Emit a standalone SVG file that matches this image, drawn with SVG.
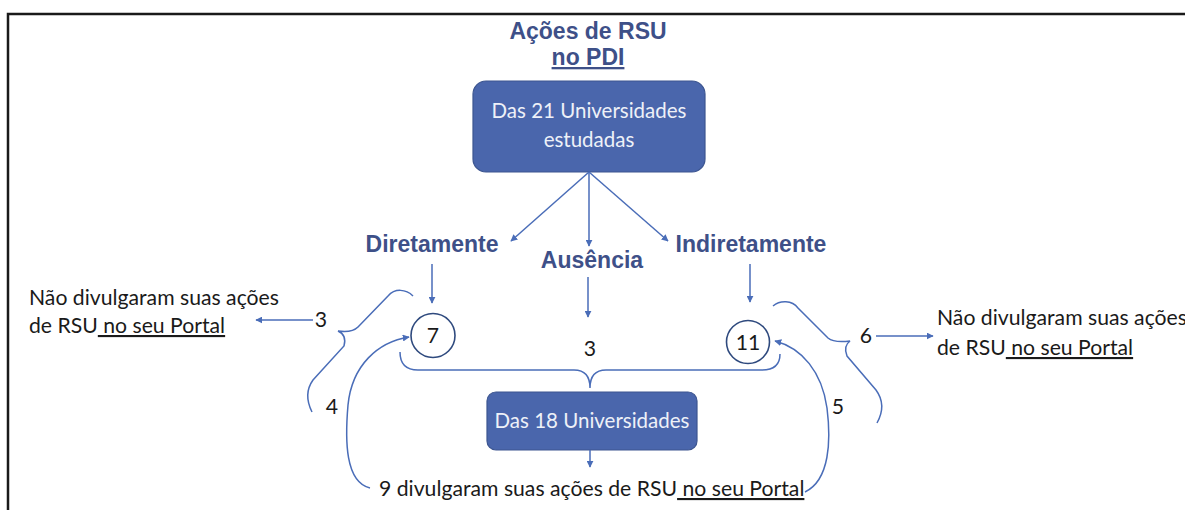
<svg xmlns="http://www.w3.org/2000/svg" width="1185" height="510" viewBox="0 0 1185 510">
<style>
.frame{fill:none;stroke:#1a1a1a;stroke-width:2.5}
.box{fill:#4A66AC;stroke:#3C5590;stroke-width:1.2}
.boxt{font-family:Lato,"Noto Sans",sans-serif;font-size:20.5px;fill:#EEF1F8;text-anchor:middle}
.title{font-family:"Liberation Sans",Arial,sans-serif;font-weight:bold;font-size:23px;fill:#3E5088;text-anchor:middle}
.body{font-family:Lato,"Noto Sans",sans-serif;font-size:21.2px;fill:#1a1a1a}
.mid{text-anchor:middle}
.u{text-decoration:underline}
.con{fill:none;stroke:#4A6DB8;stroke-width:1.5}
.arr{marker-end:url(#ah)}
.circ{fill:#fff;stroke:#2F4A7E;stroke-width:1.6}
</style>
<defs>
<marker id="ah" viewBox="0 0 10 10" refX="9" refY="5" markerWidth="7" markerHeight="7" markerUnits="userSpaceOnUse" orient="auto">
<path d="M0,0 L10,5 L0,10 z" fill="#4A6DB8"/>
</marker>
</defs>
<rect class="frame" x="8" y="14" width="1190" height="510"/>
<g id="title">
<text class="title" x="588" y="39">Ações de RSU</text>
<text class="title u" x="588" y="65">no PDI</text>
</g>
<g id="box21">
<rect class="box" x="473" y="81" width="232" height="91" rx="13"/>
<text class="boxt" x="589" y="118">Das 21 Universidades</text>
<text class="boxt" x="589" y="147">estudadas</text>
</g>
<g id="diretamente"><text class="title" x="432" y="252">Diretamente</text></g>
<g id="ausencia"><text class="title" x="592" y="268">Ausência</text></g>
<g id="indiretamente"><text class="title" x="751" y="252">Indiretamente</text></g>
<g id="c7">
<circle class="circ" cx="433" cy="335.5" r="22"/>
<text class="body mid" x="433" y="343">7</text>
</g>
<g id="c11">
<circle class="circ" cx="748" cy="342" r="21.5"/>
<text class="body mid" x="748" y="350">11</text>
</g>
<g id="aus3"><text class="body mid" x="590" y="356">3</text></g>
<g id="box18">
<rect class="box" x="487" y="392" width="210" height="58" rx="9"/>
<text class="boxt" x="592" y="428">Das 18 Universidades</text>
</g>
<g id="leftnote">
<text class="body" x="29" y="305">Não divulgaram suas ações</text>
<text class="body" x="29" y="333">de RSU<tspan class="u"> no seu Portal</tspan></text>
</g>
<g id="rightnote">
<text class="body" x="937" y="325">Não divulgaram suas ações</text>
<text class="body" x="937" y="355">de RSU<tspan class="u"> no seu Portal</tspan></text>
</g>
<g id="bottomnote">
<text class="body" x="379" y="496">9 divulgaram suas ações de RSU<tspan class="u"> no seu Portal</tspan></text>
</g>
<g id="labels">
<text class="body mid" x="321" y="327">3</text>
<text class="body mid" x="332" y="414">4</text>
<text class="body mid" x="838" y="414">5</text>
<text class="body mid" x="866" y="343">6</text>
</g>
<g id="connectors">
<path class="con arr" d="M589,172 L511,241"/>
<path class="con arr" d="M589,172 L589,246"/>
<path class="con arr" d="M589,172 L668,241"/>
<path class="con arr" d="M432,264 L432,303"/>
<path class="con arr" d="M588,277 L588,317"/>
<path class="con arr" d="M750,264 L750,302"/>
<path class="con arr" d="M313,320 L256,320"/>
<path class="con arr" d="M876,336 L933,336"/>
<path class="con arr" d="M590,450 L590,467"/>
<path class="con" d="M400,352 Q400,370 418,370 L574,370 Q590,370 590,388 Q590,370 606,370 L762,370 Q780,370 780,354"/>
<path class="con" d="M413,296 C406,289 395,288 388,296 L358,327 Q352,333 338,331 Q347,335 344,346 L313,380 Q303,394 312,412"/>
<path class="con" d="M773,306 C780,300 792,300 798,308 L828,338 Q834,343 850,341 Q843,346 847,356 L876,390 Q887,405 877,423"/>
<path class="con arr" d="M370,488 C345,482 345,440 348,405 C352,365 378,342 409,337"/>
<path class="con arr" d="M805,492 C830,480 831,440 827,408 C822,372 802,348 775,341"/>
</g>
</svg>
